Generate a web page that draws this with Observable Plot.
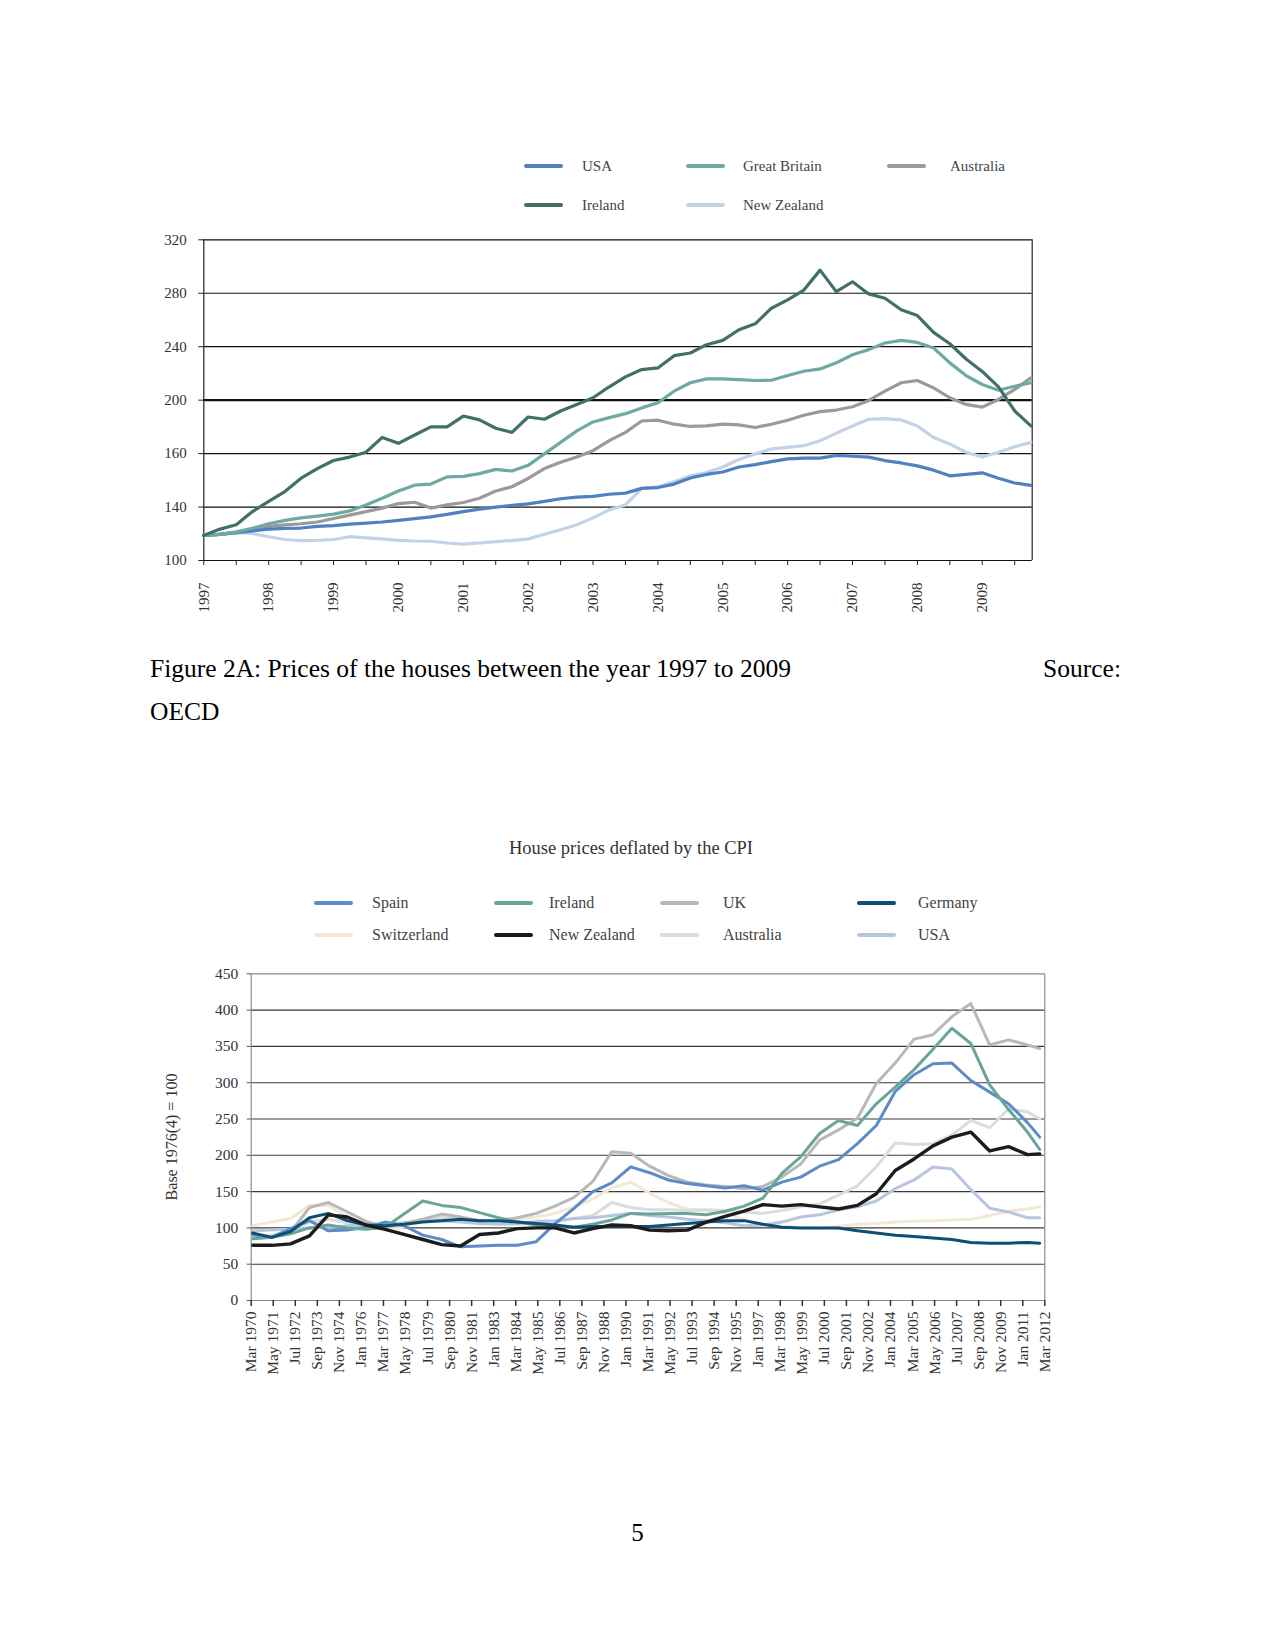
<!DOCTYPE html>
<html><head><meta charset="utf-8">
<script src="https://cdn.jsdelivr.net/npm/d3@7"></script>
<script src="https://cdn.jsdelivr.net/npm/@observablehq/plot@0.6"></script>
<style>
html,body{margin:0;padding:0;background:#fff;}
body{width:1275px;height:1651px;position:relative;overflow:hidden;font-family:"Liberation Serif",serif;}
.abs{position:absolute;white-space:nowrap;line-height:1;}
.mid{transform:translateY(-50%);}
.sw{position:absolute;height:4px;border-radius:2px;}
</style></head><body>
<div id="c1" class="abs" style="left:0;top:220px"></div>
<div id="c2" class="abs" style="left:0;top:950px"></div>
<div id="leg1"></div><div id="leg2"></div>
<div class="abs mid" style="left:150px;top:669px;font-size:25.5px;color:#000">Figure 2A: Prices of the houses between the year 1997 to 2009</div>
<div class="abs mid" style="right:154px;top:669px;font-size:25.5px;color:#000">Source:</div>
<div class="abs mid" style="left:150px;top:712px;font-size:25.5px;color:#000">OECD</div>
<div class="abs" style="left:0;width:1262px;text-align:center;top:839px;font-size:18.5px;color:#333">House prices deflated by the CPI</div>
<div class="abs" style="left:171.6px;top:1137px;font-size:16px;color:#333;transform:translate(-50%,-50%) rotate(-90deg)">Base 1976(4) = 100</div>
<div class="abs mid" style="left:0;width:1275px;text-align:center;top:1532px;font-size:25px;color:#000">5</div>
<script>
// ---------- Chart 1: quarterly, 1997Q1 .. 2009Q4 ----------
const quarters1 = d3.range(52).map(k => 1997 + k / 4);
const yTicks1 = [100, 140, 160, 200, 240, 280, 320];
const xYears1 = d3.range(1997, 2010);
const names1 = ["USA", "Great Britain", "Australia", "Ireland", "New Zealand"];
const colors1 = ["#4f81c0", "#6daaa3", "#9a9a9a", "#41706a", "#c4d2e8"];
const usa1 = [118.8,119.6,120.9,122.2,123.5,124.1,124.3,125.6,126.1,127.2,128,128.8,130,131.4,132.7,134.5,136.6,138.4,140,140.6,141.2,142.1,143.1,143.7,144,144.8,
  145.2,147,147.3,148.6,150.9,152.2,153.1,155,155.9,157,158,158.3,158.3,159.3,159,158.7,157.4,156.5,155.4,153.8,151.7,152.2,152.8,150.8,149,148.1];
const gb1 = [118.8,119.6,121.4,124.1,127.5,130,131.9,133.2,134.7,137.1,140.8,143.3,146,148.2,148.6,151.3,151.5,152.5,154.1,153.5,155.6,159.9,168.4,177,183.7,186.9,
  189.9,194.2,198,206.7,213,215.9,215.9,215.4,214.7,214.9,218.4,221.6,223.4,227.9,234,237.8,242.8,244.7,243.2,239,227.9,218.4,211.7,207.4,210.4,213];
const aus1 = [118.8,119.6,120.9,123.5,125.6,126.7,127.5,128.8,131.4,134,136.6,139.2,141.3,141.8,139.2,140.8,141.7,143.3,146,147.6,150.7,154.4,156.8,158.7,162.2,169.7,
  175.9,184.4,185,182,180.3,180.7,182,181.5,179.5,182,185,188.7,191.4,192.6,195.1,199.8,206.7,213,214.7,209.2,201.8,196.8,194.8,200.5,208,216.7];
const irl1 = [118.8,123.5,126.7,136.6,142.1,145.8,150.8,154.4,157.4,158.7,161,172.1,167.7,173.9,180,180,188.1,185.2,179,175.9,187.4,185.7,191.9,196.8,201.8,210,
  217.4,222.9,224.1,233.3,235.3,241.5,244.7,252.7,257.1,268.8,275,282.4,297.3,281.2,288.6,279.5,276.3,267.6,263.3,250.7,242.2,230.8,221.5,210,191.9,180.7];
const nz1 = [118.8,120.2,120.9,120.2,117.8,115.7,114.9,115.1,115.7,117.8,117,116.2,115.1,114.6,114.4,113.1,112.3,113.1,114.1,114.9,116.2,119.6,123,126.7,131.9,137.9,
  140.8,147,147.6,149.5,151.7,152.9,155,157.8,159.9,163.5,164.7,165.9,169.6,175.3,180.7,185.7,186.2,185.2,180.7,172.1,167.2,161,158.7,161,165.2,168.4];
const values1 = [usa1, gb1, aus1, irl1, nz1];
const drawOrder1 = [4, 2, 0, 1, 3];

// ---------- Chart 2: house prices deflated by the CPI ----------
const years2 = d3.range(1970.25, 2011.3, 1).concat([2011.9]);
const tickLabels2 = ["Mar 1970","May 1971","Jul 1972","Sep 1973","Nov 1974","Jan 1976","Mar 1977","May 1978","Jul 1979","Sep 1980","Nov 1981","Jan 1983","Mar 1984","May 1985","Jul 1986","Sep 1987","Nov 1988","Jan 1990","Mar 1991","May 1992","Jul 1993","Sep 1994","Nov 1995","Jan 1997","Mar 1998","May 1999","Jul 2000","Sep 2001","Nov 2002","Jan 2004","Mar 2005","May 2006","Jul 2007","Sep 2008","Nov 2009","Jan 2011","Mar 2012"];
const yTicks2 = [0, 50, 100, 150, 200, 250, 300, 350, 400, 450];
const names2 = ["Spain", "Ireland", "UK", "Germany", "Switzerland", "New Zealand", "Australia", "USA"];
const colors2 = ["#5b8cc8", "#6aa59c", "#b8b8b8", "#0d4f74", "#f2e8d5", "#1c1c1c", "#dcdcdc", "#b8c5df"];
const spain2 = [91,87,99,110,96,97,101,108,103,90,84,74,75,76,76,81,106,127,150,162,184,176,166,161,158,155,158,152,163,170,185,194,216,241,288,311,326,327,303,287,271,245,225];
const ireland2 = [85,87,92,100,104,100,98,101,119,137,131,128,121,114,108,104,102,101,105,111,120,119,120,120,118,123,130,141,175,198,230,248,241,271,294,318,346,375,354,297,263,232,208];
const uk2 = [89,87,94,128,135,122,109,101,106,112,119,115,110,110,114,120,130,142,164,205,203,185,172,163,159,157,154,157,170,188,221,235,251,299,327,360,366,391,409,352,359,352,347];
const germany2 = [93,87,95,114,120,110,104,103,105,108,110,112,110,110,108,106,104,101,102,102,102,102,104,106,108,110,110,105,101,100,100,100,96,93,90,88,86,84,80,79,79,80,79];
const switzerland2 = [103,108,113,131,131,115,103,99,101,109,114,111,109,109,112,115,120,129,140,155,163,148,135,126,124,121,111,105,102,101,100,102,105,106,108,109,110,111,112,117,123,126,129];
const newzealand2 = [76,76,78,89,118,115,104,98,91,84,77,75,91,93,99,100,100,93,99,104,103,97,96,97,108,116,123,132,130,132,129,126,131,147,179,195,213,225,232,206,212,201,202];
const australia2 = [88,90,95,108,112,107,103,101,104,110,115,112,108,106,105,107,108,113,117,135,128,125,125,124,125,124,122,120,124,129,133,145,158,184,217,215,216,228,248,238,264,260,250];
const usa2 = [96,97,98,100,101,103,104,105,107,110,110,108,106,105,106,109,110,113,114,117,120,117,115,112,110,107,103,104,108,115,118,125,129,137,154,166,184,181,153,127,122,114,114];
const values2 = [spain2, ireland2, uk2, germany2, switzerland2, newzealand2, australia2, usa2];
const drawOrder2 = [4, 6, 7, 2, 0, 1, 3, 5];

const font = "Liberation Serif";

// ---- render chart 1
{
  const x0 = 1997, x1 = 2009.77;
  const H = 400, mt = 19.3, mb = 60;
  // piecewise y scale: the labelled gridlines are evenly spaced in the original
  const plotBottom = H - mb, plotTop = mt;
  const yRange = yTicks1.map((_, i) => plotBottom - i * (plotBottom - plotTop) / (yTicks1.length - 1));
  const lines = drawOrder1.map(i => Plot.line(values1[i].map((v, k) => ({x: quarters1[k], y: v})),
    {x: "x", y: "y", stroke: colors1[i], strokeWidth: 3.2, strokeLinejoin: "round", strokeLinecap: "round"}));
  const svg = Plot.plot({
    width: 1275, height: H, marginTop: mt, marginBottom: mb, marginLeft: 203.3, marginRight: 243.3,
    style: {fontFamily: font, fontSize: "15px", color: "#333", background: "transparent"},
    x: {domain: [x0, x1]},
    y: {type: "linear", domain: yTicks1, range: yRange},
    marks: [
      Plot.ruleY(yTicks1, {stroke: "#111", strokeWidth: d => d === 200 ? 2.2 : 1.2}),
      Plot.ruleX([x0, x1], {stroke: "#222", strokeWidth: 1.2}),
      Plot.axisY({ticks: yTicks1, tickSize: 5, tickPadding: 12, tickFormat: d => String(d), label: null, stroke: "#222"}),
      Plot.axisX({ticks: xYears1, tickSize: 5, tickPadding: 17, tickRotate: -90, tickFormat: d => String(d), label: null, stroke: "#222"}),
      Plot.axisX({ticks: xYears1.map(y => y + 0.5).filter(y => y < x1), tickSize: 5, tickFormat: () => "", label: null, stroke: "#222"}),
      ...lines
    ]
  });
  document.getElementById("c1").appendChild(svg);
}

// ---- render chart 2
{
  const mon = {Jan:0,Feb:1,Mar:2,Apr:3,May:4,Jun:5,Jul:6,Aug:7,Sep:8,Oct:9,Nov:10,Dec:11};
  const tickPos = tickLabels2.map(s => { const [m, y] = s.split(" "); return +y + mon[m] / 12; });
  const x0 = tickPos[0], x1 = tickPos[tickPos.length - 1];
  const lab = d => tickLabels2[d3.minIndex(tickPos, p => Math.abs(p - d))];
  const lines = drawOrder2.map(i => Plot.line(values2[i].map((v, k) => ({x: years2[k], y: v})),
    {x: "x", y: "y", stroke: colors2[i], strokeWidth: i === 5 ? 3.4 : 3, strokeLinejoin: "round", strokeLinecap: "round"}));
  const svg = Plot.plot({
    width: 1275, height: 440, marginTop: 23.3, marginBottom: 90, marginLeft: 250.7, marginRight: 230.7,
    style: {fontFamily: font, fontSize: "15.5px", color: "#333", background: "transparent"},
    x: {domain: [x0, x1]},
    y: {domain: [0, 450]},
    marks: [
      Plot.ruleY(yTicks2.filter(d => d > 0 && d < 450), {stroke: "#3a3a3a", strokeWidth: 1.1}),
      Plot.ruleY([0, 450], {stroke: "#8a8a8a", strokeWidth: 1.2}),
      Plot.ruleX([x0, x1], {stroke: "#8a8a8a", strokeWidth: 1.2}),
      Plot.axisY({ticks: yTicks2, tickSize: 4, tickPadding: 9, tickFormat: d => String(d), label: null, stroke: "#555"}),
      Plot.axisX({ticks: tickPos, tickSize: 6, tickPadding: 5, tickRotate: -90, tickFormat: lab, label: null, stroke: "#333", strokeWidth: 1.5}),
      ...lines
    ]
  });
  document.getElementById("c2").appendChild(svg);
}

// ---- legends (HTML, above the SVGs)
function legend(el, names, colors, cols, rows, fontSize) {
  const host = document.getElementById(el);
  names.forEach((n, i) => {
    const c = i % cols.length, r = Math.floor(i / cols.length);
    const sw = document.createElement("div");
    sw.className = "sw";
    sw.style.cssText = `left:${cols[c][0]}px;top:${rows[r] - 2}px;width:39px;background:${colors[i]}`;
    host.appendChild(sw);
    const t = document.createElement("div");
    t.className = "abs mid";
    t.style.cssText = `left:${cols[c][1]}px;top:${rows[r]}px;font-size:${fontSize}px;color:#444`;
    t.textContent = n;
    host.appendChild(t);
  });
}
legend("leg1", names1, colors1, [[524, 582], [686, 743], [887, 950]], [166, 205], 15);
legend("leg2", names2, colors2, [[314, 372], [494, 549], [660, 723], [857, 918]], [903, 935], 16);
</script>
</body></html>
